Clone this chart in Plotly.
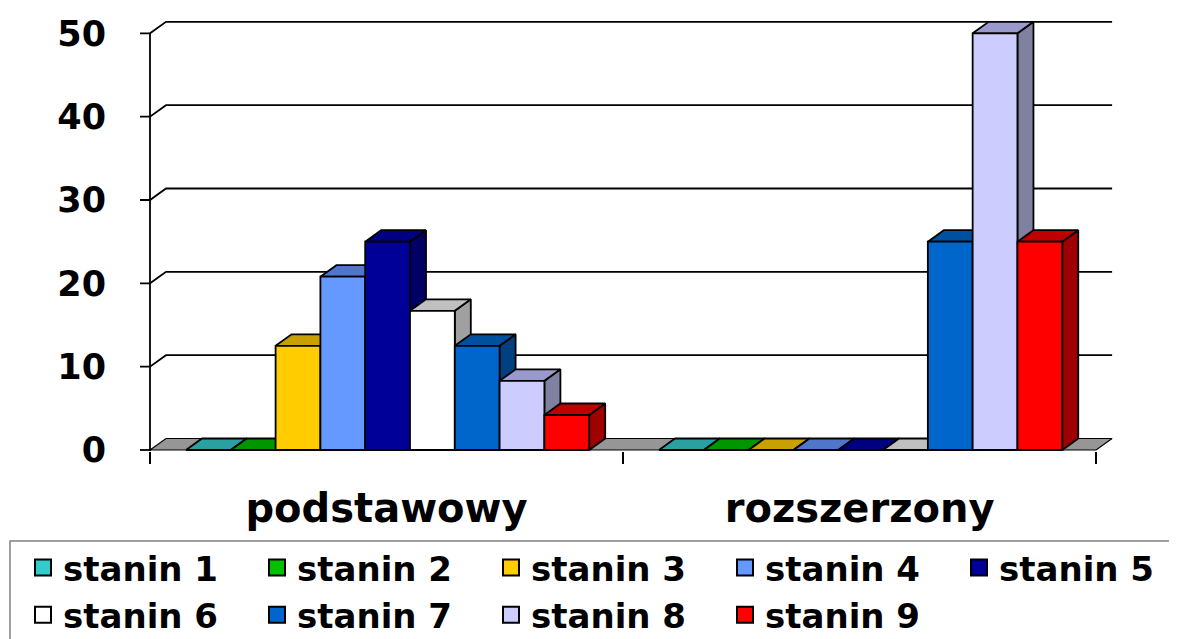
import plotly.graph_objects as go

# ---------------- data ----------------
categories = ["podstawowy", "rozszerzony"]
series_names = ["stanin 1", "stanin 2", "stanin 3", "stanin 4", "stanin 5",
                "stanin 6", "stanin 7", "stanin 8", "stanin 9"]
stanin_1 = [0, 0]
stanin_2 = [0, 0]
stanin_3 = [12.5, 0]
stanin_4 = [20.8, 0]
stanin_5 = [25.0, 0]
stanin_6 = [16.7, 0]
stanin_7 = [12.5, 25.0]
stanin_8 = [8.3, 50.0]
stanin_9 = [4.2, 25.0]
series_values = [stanin_1, stanin_2, stanin_3, stanin_4, stanin_5,
                 stanin_6, stanin_7, stanin_8, stanin_9]
y_ticks = [0, 10, 20, 30, 40, 50]

# ---------------- style ----------------
front_colors = ["#33CCCC", "#00C000", "#FFCC00", "#6699FF", "#000099",
                "#FFFFFF", "#0066CC", "#CCCCFF", "#FF0000"]
top_colors = ["#2AA0A0", "#009600", "#C8A000", "#4F76C8", "#000080",
              "#C0C0C0", "#0050A0", "#9999CC", "#C00000"]
side_colors = ["#1F7A7A", "#007000", "#A08000", "#3D5C9E", "#000066",
               "#A0A0A0", "#004080", "#8080A0", "#A00000"]
FLOOR = "#969696"
FONT = dict(family="DejaVu Sans", size=35, color="black", weight="bold")
LEG_FONT = dict(family="DejaVu Sans", size=34, color="black", weight="bold")
CAT_FONT = dict(family="DejaVu Sans", size=40, color="black", weight="bold")

# page has an 8px body margin, so the figure is 8px smaller and offset
W, H = 1169, 631
ML, MR, MT, MB = 132, 0, 12, 188
PLOT_W, PLOT_H = W - ML - MR, H - MT - MB
PX_PER_CAT = 473.05
X_LEFT = -10 / PX_PER_CAT
X_RANGE = [X_LEFT, X_LEFT + PLOT_W / PX_PER_CAT]
Y_RANGE = [-0.12, 51.6]
px_x = PX_PER_CAT
px_y = PLOT_H / (Y_RANGE[1] - Y_RANGE[0])
DX = 16 / px_x          # depth offset (x)
DY = 11.5 / px_y        # depth offset (y)
BAR_W = 44.8 / px_x
GROUP_PAD = 36 / px_x
LW = 1.8


def paper_x(fx):
    return (fx - ML) / PLOT_W


def paper_y(fy):
    return (MT + PLOT_H - fy) / PLOT_H


fig = go.Figure()
n_cat = len(categories)

# back wall grid lines (with tick marks and diagonal on side wall)
gx, gy = [], []
for t in y_ticks:
    if t == 0:
        gx += [X_RANGE[0], 0, None]
        gy += [t, t, None]
    else:
        gx += [X_RANGE[0], 0, DX, n_cat + DX, None]
        gy += [t, t, t + DY, t + DY, None]
fig.add_trace(go.Scatter(x=gx, y=gy, mode="lines", line=dict(color="black", width=LW),
                         showlegend=False, hoverinfo="skip"))

# floor
fig.add_trace(go.Scatter(x=[0, n_cat, n_cat + DX, DX, 0], y=[0, 0, DY, DY, 0],
                         mode="lines", fill="toself", fillcolor=FLOOR,
                         line=dict(color="black", width=1.2),
                         showlegend=False, hoverinfo="skip"))

# 3D bars
for i, (name, vals) in enumerate(zip(series_names, series_values)):
    fx, fy, tx, ty, sx, sy = [], [], [], [], [], []
    for c, v in enumerate(vals):
        l = c + GROUP_PAD + i * BAR_W
        r = l + BAR_W
        fx += [l, r, r, l, l, None]
        fy += [0, 0, v, v, 0, None]
        tx += [l, r, r + DX, l + DX, l, None]
        ty += [v, v, v + DY, v + DY, v, None]
        sx += [r, r + DX, r + DX, r, r, None]
        sy += [0, DY, v + DY, v, 0, None]
    for xs, ys, col in ((sx, sy, side_colors[i]), (tx, ty, top_colors[i]),
                        (fx, fy, front_colors[i])):
        fig.add_trace(go.Scatter(x=xs, y=ys, mode="lines", fill="toself",
                                 fillcolor=col, line=dict(color="black", width=LW),
                                 showlegend=False, hoverinfo="skip", name=name))

# front vertical axis line
fig.add_trace(go.Scatter(x=[0, 0], y=[Y_RANGE[0], y_ticks[-1]], mode="lines",
                         line=dict(color="black", width=LW),
                         showlegend=False, hoverinfo="skip"))

# legend entries
for i, name in enumerate(series_names):
    fig.add_trace(go.Scatter(x=[None], y=[None], mode="markers", name=name,
                             marker=dict(symbol="square", size=16, color=front_colors[i],
                                         line=dict(color="black", width=2))))

# legend frame (extends past the right/bottom edge like the reference)
fig.add_shape(type="rect", xref="paper", yref="paper",
              x0=paper_x(2), x1=paper_x(W + 10), y0=paper_y(533), y1=paper_y(H + 10),
              line=dict(color="#808080", width=1.5), fillcolor="rgba(0,0,0,0)",
              layer="below")

fig.update_layout(
    width=W, height=H,
    margin=dict(l=ML, r=MR, t=MT, b=MB, autoexpand=False),
    paper_bgcolor="white", plot_bgcolor="white",
    font=FONT,
    showlegend=True,
    legend=dict(orientation="h", x=paper_x(15), xanchor="left",
                y=paper_y(531), yanchor="top",
                borderwidth=0, bgcolor="rgba(0,0,0,0)",
                entrywidth=189, entrywidthmode="pixels", font=LEG_FONT,
                traceorder="normal", itemsizing="trace", tracegroupgap=0),
    xaxis=dict(range=X_RANGE, showgrid=False, zeroline=False, showline=False,
               tickmode="array", tickvals=[c + 0.5 for c in range(n_cat)],
               ticktext=categories, ticks="", ticklabelstandoff=30,
               minor=dict(tickmode="array", tickvals=list(range(n_cat + 1)),
                          ticks="outside", ticklen=12, tickwidth=1.5, tickcolor="black"),
               tickfont=CAT_FONT),
    yaxis=dict(range=Y_RANGE, showgrid=False, zeroline=False, showline=False,
               tickmode="array", tickvals=y_ticks, ticks="", ticklabelstandoff=33,
               tickfont=FONT),
)

fig.write_html("out.html")
